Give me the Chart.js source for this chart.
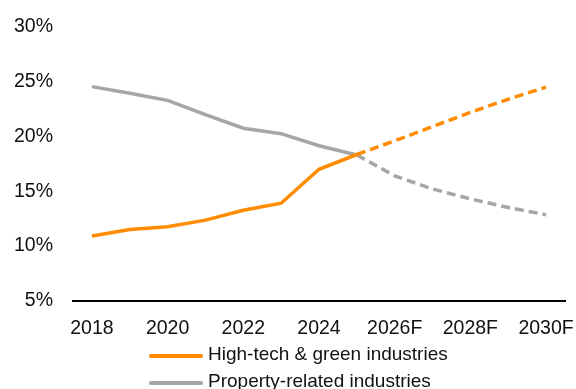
<!DOCTYPE html>
<html>
<head>
<meta charset="utf-8">
<script src="https://cdn.jsdelivr.net/npm/chart.js@4.4.1/dist/chart.umd.min.js"></script>
<style>
  html, body { margin: 0; padding: 0; background: #ffffff; }
  #wrap { width: 576px; height: 389px; position: relative; }
</style>
</head>
<body>
<div id="wrap"><canvas id="chart" width="576" height="389"></canvas></div>
<script>
// Years on the x axis; forecasts carry an "F" suffix
const years = ['2018', '2019', '2020', '2021', '2022', '2023', '2024', '2025',
               '2026F', '2027F', '2028F', '2029F', '2030F'];

// Share of total, in percent
const highTechGreen = [10.9, 11.5, 11.75, 12.35, 13.25, 13.9, 17.0, 18.35,
                       19.6, 20.9, 22.2, 23.4, 24.5];
const propertyRelated = [24.55, 23.95, 23.3, 22.0, 20.75, 20.25, 19.15, 18.3,
                         16.4, 15.2, 14.3, 13.5, 12.85];

// Y axis range and step (percent)
const yMin = 5;
const yMax = 30;
const yStep = 5;

// Index of the last actual year; segments after it are forecasts
const lastActualIndex = 7;

const FONT = '"Liberation Sans", Arial, sans-serif';
const ORANGE = '#ff8c00';
const GREY = '#a6a6a6';

// Legend drawn as a left-aligned vertical list under the axis
const stackedLegend = {
  id: 'stackedLegend',
  afterDraw(chart) {
    const ctx = chart.ctx;
    const x0 = 149, lineLen = 54, gap = 5;
    const rows = [355, 382];
    ctx.save();
    ctx.font = '19px ' + FONT;
    ctx.textBaseline = 'middle';
    ctx.textAlign = 'left';
    chart.data.datasets.forEach((ds, i) => {
      const y = rows[i];
      ctx.strokeStyle = ds.borderColor;
      ctx.lineWidth = 4;
      ctx.lineCap = 'round';
      ctx.beginPath();
      ctx.moveTo(x0 + 2, y + 1);
      ctx.lineTo(x0 + lineLen - 2, y + 1);
      ctx.stroke();
      ctx.fillStyle = '#111111';
      ctx.fillText(ds.label, x0 + lineLen + gap, y);
    });
    ctx.restore();
  }
};

const forecastDash = c => (c.p0DataIndex >= lastActualIndex ? [9, 5] : undefined);

new Chart(document.getElementById('chart'), {
  type: 'line',
  data: {
    labels: years,
    datasets: [
      {
        label: 'High-tech & green industries',
        data: highTechGreen,
        borderColor: ORANGE,
        backgroundColor: ORANGE,
        borderWidth: 3.5,
        pointRadius: 0,
        tension: 0,
        segment: { borderDash: forecastDash }
      },
      {
        label: 'Property-related industries',
        data: propertyRelated,
        borderColor: GREY,
        backgroundColor: GREY,
        borderWidth: 3.5,
        pointRadius: 0,
        tension: 0,
        segment: { borderDash: forecastDash }
      }
    ]
  },
  options: {
    responsive: false,
    animation: false,
    devicePixelRatio: 1,
    layout: { padding: { top: 27, left: 10, right: 11, bottom: 33 } },
    plugins: {
      legend: { display: false },
      tooltip: { enabled: false }
    },
    scales: {
      x: {
        offset: true,
        grid: { display: false, drawTicks: false },
        border: { display: true, color: '#000000', width: 2 },
        afterFit: s => { s.paddingLeft = 0; s.paddingRight = 0; },
        ticks: {
          autoSkip: false,
          maxRotation: 0,
          padding: 16,
          color: '#111111',
          font: { family: FONT, size: 19.5 },
          callback: (v, i) => (i % 2 === 0 ? years[i] : '')
        }
      },
      y: {
        min: yMin,
        max: yMax,
        grid: { display: false, drawTicks: false },
        border: { display: false },
        afterFit: s => { s.width = 63; s.paddingTop = 0; s.paddingBottom = 0; },
        ticks: {
          stepSize: yStep,
          padding: 20,
          color: '#111111',
          font: { family: FONT, size: 19.5 },
          callback: v => v + '%'
        }
      }
    }
  },
  plugins: [stackedLegend]
});
</script>
</body>
</html>
